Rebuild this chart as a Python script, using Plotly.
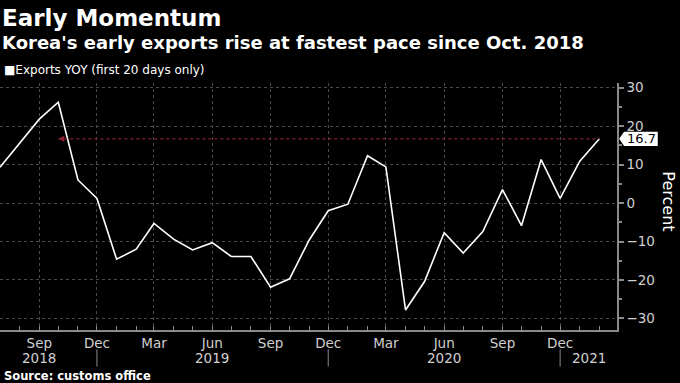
import pandas as pd
import plotly.graph_objects as go

# ---- data ----
months = list(pd.date_range("2018-07-01", periods=32, freq="MS"))
exports_yoy = [9.3, 15.5, 21.8, 26.2, 6.0, 1.2,
               -14.6, -12.0, -5.3, -9.4, -12.2, -10.3, -13.9, -13.9, -21.9, -19.7, -9.6, -2.0,
               -0.3, 12.3, 9.4, -27.8, -20.4, -7.7, -13.0, -7.4, 3.5, -5.9, 11.3, 1.2,
               10.9, 16.7]
series_name = "Exports YOY (first 20 days only)"
reference_date = pd.Timestamp("2018-10-01")   # last time the pace was this fast
year_labels = ["2018", "2019", "2020", "2021"]
year_label_dates = ["2018-09-01", "2019-06-01", "2020-06-01", "2021-01-15"]
year_break_dates = ["2018-12-01", "2019-12-01", "2020-12-01"]
y_tick_values = [-30, -20, -10, 0, 10, 20, 30]

latest = exports_yoy[-1]
latest_date = months[-1]

FONT = "DejaVu Sans"
TICK_COLOR = "#d0d0d0"
AXIS_COLOR = "#8a8a8a"
GRID_COLOR = "#4a4a4a"
RED = "#8e1f30"

fig = go.Figure()

fig.add_trace(go.Scatter(
    x=months, y=exports_yoy, mode="lines", name=series_name,
    line=dict(color="white", width=1.6), showlegend=False,
))

shapes = []
# dotted reference line at latest value back to the reference month
shapes.append(dict(type="line", xref="x", yref="y",
                   x0=reference_date, x1=latest_date, y0=latest, y1=latest,
                   line=dict(color=RED, width=1.2, dash="dot")))
# year separators
for d in year_break_dates:
    shapes.append(dict(type="line", xref="x", yref="paper", x0=d, x1=d,
                       y0=-0.078, y1=-0.148, line=dict(color=AXIS_COLOR, width=1)))
# value tag on right axis
h = 1.85
shapes.append(dict(type="path", xref="paper", yref="y",
                   path=(f"M 1.0035 {latest} L 1.0115 {latest + h} L 1.066 {latest + h} "
                         f"L 1.066 {latest - h} L 1.0115 {latest - h} Z"),
                   fillcolor="white", line=dict(width=0)))

annotations = [
    dict(text="<b>Early Momentum</b>", x=0, y=1.262, xref="paper", yref="paper",
         xanchor="left", yanchor="middle", showarrow=False,
         font=dict(family=FONT, size=23, color="white")),
    dict(text="<b>Korea's early exports rise at fastest pace since Oct. 2018</b>",
         x=0, y=1.163, xref="paper", yref="paper", xanchor="left", yanchor="middle",
         showarrow=False, font=dict(family=FONT, size=18, color="white")),
    dict(text="■" + series_name, x=0.003, y=1.053, xref="paper", yref="paper",
         xanchor="left", yanchor="middle", showarrow=False,
         font=dict(family=FONT, size=12, color="white")),
    dict(text="<b>Source: customs office</b>", x=0.003, y=-0.186, xref="paper", yref="paper",
         xanchor="left", yanchor="middle", showarrow=False,
         font=dict(family=FONT, size=11.5, color="white")),
    dict(text="Percent", x=1.083, y=0.52, xref="paper", yref="paper", textangle=90,
         xanchor="center", yanchor="middle", showarrow=False,
         font=dict(family=FONT, size=16, color="white")),
    dict(text=f"{latest}", x=1.039, y=latest, xref="paper", yref="y",
         xanchor="center", yanchor="middle", showarrow=False,
         font=dict(family=FONT, size=13, color="black")),
    # arrow tip at the reference month
    dict(text="", x=reference_date, y=latest, xref="x", yref="y",
         ax=reference_date + pd.Timedelta(days=8), ay=latest, axref="x", ayref="y",
         showarrow=True, arrowhead=2, arrowsize=1.2, arrowwidth=1, arrowcolor=RED),
]
for lbl, d in zip(year_labels, year_label_dates):
    annotations.append(dict(text=lbl, x=d, y=-0.113, xref="x", yref="paper",
                            xanchor="center", yanchor="middle", showarrow=False,
                            font=dict(family=FONT, size=13.5, color=TICK_COLOR)))

fig.update_layout(
    width=680, height=383,
    margin=dict(l=0, r=63, t=83, b=53),
    paper_bgcolor="black", plot_bgcolor="black",
    font=dict(family=FONT, color=TICK_COLOR),
    shapes=shapes, annotations=annotations,
    showlegend=False,
)

fig.update_xaxes(
    type="date",
    range=[months[0], pd.Timestamp("2021-02-28 18:00")],
    tickmode="linear", tick0="2018-09-01", dtick="M3", tickformat="%b",
    tickfont=dict(family=FONT, size=13.5, color=TICK_COLOR),
    ticks="inside", ticklen=4, tickcolor=AXIS_COLOR,
    showgrid=True, gridcolor=GRID_COLOR, griddash="dot", gridwidth=1,
    showline=True, linecolor=AXIS_COLOR, linewidth=1.5,
    minor=dict(dtick="M1", tick0="2018-07-01", ticks="inside", ticklen=4,
               tickcolor=AXIS_COLOR, showgrid=False),
    zeroline=False, fixedrange=True,
)
fig.update_yaxes(
    side="right", range=[-33, 31.2],
    tickmode="array", tickvals=y_tick_values,
    tickfont=dict(family=FONT, size=13.5, color=TICK_COLOR),
    ticks="outside", ticklen=5, tickwidth=2, tickcolor=AXIS_COLOR,
    showgrid=True, gridcolor=GRID_COLOR, griddash="dot", gridwidth=1,
    showline=True, linecolor=AXIS_COLOR, linewidth=1.5,
    minor=dict(dtick=5, tick0=0, ticks="outside", ticklen=3, tickcolor=AXIS_COLOR,
               showgrid=False),
    zeroline=False, fixedrange=True,
)

fig.write_html("out.html", config={"displayModeBar": False},
               post_script="document.body.style.margin='0';document.body.style.overflow='hidden';")
